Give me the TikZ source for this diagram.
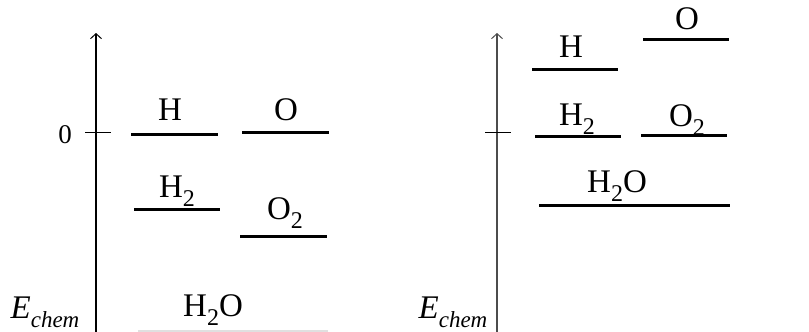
\documentclass[tikz,border=0pt]{standalone}
\usepackage{fontspec}
\setmainfont{Liberation Serif}
\usetikzlibrary{arrows.meta, positioning}
\newcommand{\subtxt}[1]{\raisebox{-9.5pt}{\fontsize{24}{24}\selectfont #1}}
\newcommand{\echem}{\textit{E}\raisebox{-9pt}{\fontsize{23}{23}\selectfont\itshape chem}}

\begin{document}
\begin{tikzpicture}[
        x=1pt, y=-1pt,
        every node/.style={inner sep=0pt, font=\fontsize{33}{38}\selectfont},
        level/.style={draw, line width=3pt},
        axis/.style={draw, line width=1.2pt, -{Straight Barb[length=5pt, width=11pt, line width=1pt]}},
        tick/.style={draw, line width=1pt},
        lbl/.style={anchor=base}
    ]
        \useasboundingbox (0,0) rectangle (809,332);
        % left diagram
        \coordinate (axisLa) at (96,332);
        \coordinate (axisLb) at (96,33);
        \path [axis] (axisLa) -- (axisLb);
        \coordinate (tickLa) at (85,132);
        \coordinate (tickLb) at (111,132);
        \path [tick] (tickLa) -- (tickLb);
        \node [lbl, font=\fontsize{27}{30}\selectfont] (zeroL) at (65,143) {0};
        \node [lbl] (echemL) at (45,318) {\echem};
        \coordinate (hLa) at (131,134);  \coordinate (hLb) at (218,134);
        \coordinate (oLa) at (242,132);  \coordinate (oLb) at (329,132);
        \coordinate (hhLa) at (134,209); \coordinate (hhLb) at (220,209);
        \coordinate (ooLa) at (240,236); \coordinate (ooLb) at (327,236);
        \coordinate (wLa) at (138,331);  \coordinate (wLb) at (328,331);
        \path [level] (hLa) -- (hLb);
        \path [level] (oLa) -- (oLb);
        \path [level] (hhLa) -- (hhLb);
        \path [level] (ooLa) -- (ooLb);
        \path [level, draw=black!12, line width=1.5pt] (wLa) -- (wLb);
        \node [lbl] (hL)  at (170,120) {H};
        \node [lbl] (oL)  at (286,120) {O};
        \node [lbl] (hhL) at (177,197) {H\subtxt{2}};
        \node [lbl] (ooL) at (285,219) {O\subtxt{2}};
        \node [lbl] (wL)  at (213,316) {H\subtxt{2}O};
        % right diagram
        \coordinate (axisRa) at (497,332);
        \coordinate (axisRb) at (497,33);
        \path [axis, draw=black!70] (axisRa) -- (axisRb);
        \coordinate (tickRa) at (485,132);
        \coordinate (tickRb) at (511,132);
        \path [tick] (tickRa) -- (tickRb);
        \node [lbl] (echemR) at (453,318) {\echem};
        \coordinate (hRa) at (532,69);   \coordinate (hRb) at (618,69);
        \coordinate (oRa) at (643,39);   \coordinate (oRb) at (729,39);
        \coordinate (hhRa) at (535,136); \coordinate (hhRb) at (621,136);
        \coordinate (ooRa) at (641,135); \coordinate (ooRb) at (727,135);
        \coordinate (wRa) at (539,205);  \coordinate (wRb) at (730,205);
        \path [level] (hRa) -- (hRb);
        \path [level] (oRa) -- (oRb);
        \path [level] (hhRa) -- (hhRb);
        \path [level] (ooRa) -- (ooRb);
        \path [level] (wRa) -- (wRb);
        \node [lbl] (hR)  at (571,57)  {H};
        \node [lbl] (oR)  at (687,30)  {O};
        \node [lbl] (hhR) at (577,125) {H\subtxt{2}};
        \node [lbl] (ooR) at (687,126) {O\subtxt{2}};
        \node [lbl] (wR)  at (617,192) {H\subtxt{2}O};
    \end{tikzpicture}
\end{document}
